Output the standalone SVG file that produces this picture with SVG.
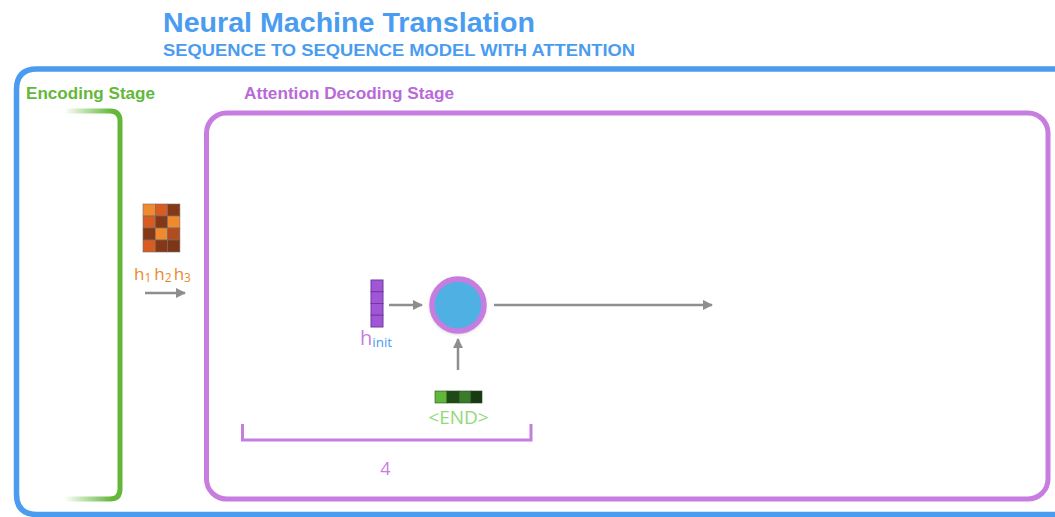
<svg xmlns="http://www.w3.org/2000/svg" width="1055" height="517" viewBox="0 0 1055 517">
  <defs>
    <style>
      .title { font-family: "Liberation Sans", Arial, sans-serif; font-weight: bold; fill: #4a9cf0; }
      .stage { font-family: "Liberation Sans", Arial, sans-serif; font-weight: bold; font-size: 16px; }
      .soft { font-family: "Open Sans", "Noto Sans", sans-serif; }
      .conn { stroke: #8e8e8e; stroke-width: 2.5; fill: none; }
      .cellg { stroke: #6e6e6e; stroke-width: 0.6; }
      .cellp { fill: #a155d8; stroke: #6f3a9a; stroke-width: 1; }
    </style>
    <marker id="arrow" viewBox="0 0 10 10" refX="9" refY="5" markerWidth="4.2" markerHeight="4.2" orient="auto" markerUnits="strokeWidth">
      <path d="M0,0 L10,5 L0,10 z" fill="#8e8e8e"/>
    </marker>
    <linearGradient id="fadeTop" x1="64" y1="0" x2="112" y2="0" gradientUnits="userSpaceOnUse">
      <stop offset="0" stop-color="#63b83a" stop-opacity="0"/>
      <stop offset="1" stop-color="#63b83a" stop-opacity="1"/>
    </linearGradient>
    <filter id="shadow" x="-30%" y="-30%" width="160%" height="160%">
      <feGaussianBlur stdDeviation="1.5"/>
    </filter>
  </defs>

  <rect width="1055" height="517" fill="#ffffff"/>

  <!-- Headings -->
  <g id="heading">
    <text class="title" x="163" y="32" font-size="27" textLength="372" lengthAdjust="spacingAndGlyphs">Neural Machine Translation</text>
    <text class="title" x="163" y="56" font-size="16.5" textLength="472" lengthAdjust="spacingAndGlyphs">SEQUENCE TO SEQUENCE MODEL WITH ATTENTION</text>
  </g>

  <!-- Outer frame -->
  <g id="outer-frame">
    <path d="M1058,69 L37,69 Q16.5,69 16.5,89.5 L16.5,494 Q16.5,514.5 37,514.5 L1058,514.5" fill="none" stroke="#4a9cf0" stroke-width="5.5"/>
  </g>

  <!-- Encoding stage -->
  <g id="encoding-stage">
    <text class="stage" x="26" y="99" fill="#63b83a" textLength="129" lengthAdjust="spacingAndGlyphs">Encoding Stage</text>
    <path d="M64,111 L110,111 Q120,111 120,121 L120,489 Q120,499 110,499 L64,499" fill="none" stroke="url(#fadeTop)" stroke-width="5"/>
  </g>

  <!-- Decoding stage frame -->
  <g id="decoding-stage">
    <text class="stage" x="244" y="99" fill="#b86ad8" textLength="210" lengthAdjust="spacingAndGlyphs">Attention Decoding Stage</text>
    <rect x="206.5" y="113" width="841.5" height="386" rx="20" ry="20" fill="none" stroke="#c77de0" stroke-width="5"/>
  </g>

  <!-- Encoder hidden states -->
  <g id="encoder-states">
    <g class="cellg">
      <rect x="143" y="204" width="12.3" height="12" fill="#f08a2c"/>
      <rect x="155.3" y="204" width="12.3" height="12" fill="#d95b22"/>
      <rect x="167.6" y="204" width="12.3" height="12" fill="#863816"/>
      <rect x="143" y="216" width="12.3" height="12" fill="#d95b22"/>
      <rect x="155.3" y="216" width="12.3" height="12" fill="#863816"/>
      <rect x="167.6" y="216" width="12.3" height="12" fill="#f08a2c"/>
      <rect x="143" y="228" width="12.3" height="12" fill="#863816"/>
      <rect x="155.3" y="228" width="12.3" height="12" fill="#f08a2c"/>
      <rect x="167.6" y="228" width="12.3" height="12" fill="#b24c1e"/>
      <rect x="143" y="240" width="12.3" height="12" fill="#d95b22"/>
      <rect x="155.3" y="240" width="12.3" height="12" fill="#863816"/>
      <rect x="167.6" y="240" width="12.3" height="12" fill="#7e3515"/>
    </g>
    <text class="soft" x="134" y="280" font-size="17" fill="#e8892e">h<tspan font-size="12" dy="2">1</tspan><tspan dy="-2" dx="3">h</tspan><tspan font-size="12" dy="2">2</tspan><tspan dy="-2" dx="2">h</tspan><tspan font-size="12" dy="2">3</tspan></text>
  </g>

  <!-- Initial decoder state -->
  <g id="h-init">
    <rect class="cellp" x="371" y="280" width="12" height="11.75"/>
    <rect class="cellp" x="371" y="291.75" width="12" height="11.75"/>
    <rect class="cellp" x="371" y="303.5" width="12" height="11.75"/>
    <rect class="cellp" x="371" y="315.25" width="12" height="11.75"/>
    <text class="soft" x="360" y="345" font-size="20" fill="#c77de0">h<tspan font-size="13.5" dy="2" fill="#4a9cf0">init</tspan></text>
  </g>

  <!-- Decoder RNN cell -->
  <g id="decoder-cell">
    <circle cx="458" cy="306" r="28.5" fill="#b0b0b0" opacity="0.5" filter="url(#shadow)"/>
    <circle cx="458" cy="305" r="26" fill="#4fb0e4" stroke="#c77de0" stroke-width="5.5"/>
  </g>

  <!-- Input token embedding -->
  <g id="end-token">
    <rect x="435" y="391" width="12" height="12" fill="#5fb83a" stroke="#2a4a20" stroke-width="0.6"/>
    <rect x="447" y="391" width="12" height="12" fill="#1f4a18" stroke="#2a4a20" stroke-width="0.6"/>
    <rect x="459" y="391" width="12" height="12" fill="#3a7a2a" stroke="#2a4a20" stroke-width="0.6"/>
    <rect x="471" y="391" width="11" height="12" fill="#183a12" stroke="#2a4a20" stroke-width="0.6"/>
    <text class="soft" x="458.5" y="424" font-size="19" fill="#8fd97a" text-anchor="middle">&lt;END&gt;</text>
  </g>

  <!-- Time-step span -->
  <g id="timestep">
    <path d="M242.5,424 L242.5,440 L531,440 L531,424" fill="none" stroke="#c77de0" stroke-width="3"/>
    <text class="soft" x="385.5" y="475" font-size="18" fill="#c77de0" text-anchor="middle">4</text>
  </g>

  <!-- Connectors -->
  <g id="connectors">
    <line class="conn" x1="145" y1="293" x2="185" y2="293" marker-end="url(#arrow)"/>
    <line class="conn" x1="389" y1="305" x2="422" y2="305" marker-end="url(#arrow)"/>
    <line class="conn" x1="458" y1="370" x2="458" y2="339" marker-end="url(#arrow)"/>
    <line class="conn" x1="494" y1="305" x2="712" y2="305" marker-end="url(#arrow)"/>
  </g>
</svg>
